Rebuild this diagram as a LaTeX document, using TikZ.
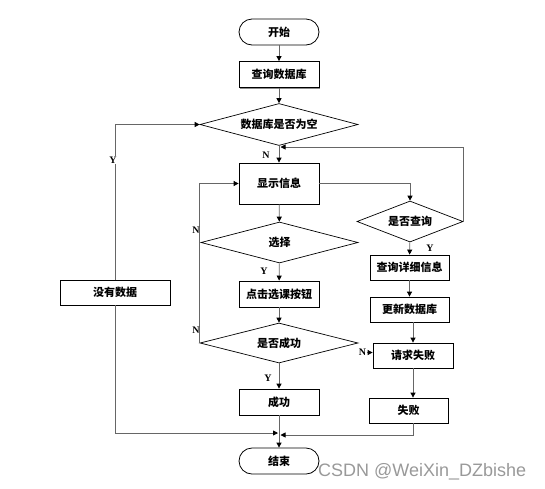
\documentclass[tikz,border=0pt]{standalone}
\usepackage{fontspec}
\setmainfont{Liberation Serif}
\newfontfamily\cjk{Noto Sans CJK SC}
\newfontfamily\wmfont{Liberation Sans}
\usetikzlibrary{shapes.geometric,arrows.meta,shadows}
\begin{document}
\begin{tikzpicture}[x=1pt,y=-1pt,
  box/.style={draw=black,line width=0.8pt,fill=white,rectangle,inner sep=2pt,
    minimum width=80pt,minimum height=26pt,font=\cjk\bfseries\fontsize{11}{12}\selectfont,
    drop shadow={shadow xshift=1.2pt,shadow yshift=-1.2pt,opacity=1,fill=black!45}},
  term/.style={draw=black,line width=0.8pt,fill=white,rectangle,rounded corners=13pt,
    minimum width=80pt,minimum height=26pt,font=\cjk\bfseries\fontsize{11}{12}\selectfont},
  dec/.style={draw=black,line width=0.7pt,fill=white,diamond,aspect=3.6,inner sep=0pt,
    font=\cjk\bfseries\fontsize{11}{12}\selectfont},
  lbl/.style={font=\bfseries\fontsize{10}{11}\selectfont,inner sep=1pt},
  conn/.style={draw=black!60,line width=0.8pt},
  arr/.style={conn,-{Triangle[length=5pt,width=5pt,color=black]}}
]
\useasboundingbox (0,0) rectangle (545,488);

\node[term] (start) at (279,32) {开始};
\node[box] (q1) at (279,74.5) {查询数据库};
\node[dec,minimum width=158pt,minimum height=42pt] (d1) at (279,124.5) {数据库是否为空};
\node[box,minimum height=41pt] (show) at (279,183.5) {显示信息};
\node[dec,minimum width=106pt,minimum height=41pt] (d2) at (410,221.5) {是否查询};
\node[dec,minimum width=157pt,minimum height=41pt] (d3) at (279.5,242.5) {选择};
\node[box] (click) at (279,294) {点击选课按钮};
\node[dec,minimum width=158pt,minimum height=40pt] (d4) at (279,343) {是否成功};
\node[box,minimum width=79pt,minimum height=25pt] (detail) at (409.5,267.5) {查询详细信息};
\node[box,minimum width=79pt,minimum height=25pt] (update) at (409.5,309.5) {更新数据库};
\node[box,minimum height=25pt] (req) at (413,355.5) {请求失败};
\node[box,minimum width=79pt,minimum height=25pt] (fail) at (408.5,410.5) {失败};
\node[box] (ok) at (279,402) {成功};
\node[term] (end) at (279,461) {结束};
\node[box,minimum width=110pt,minimum height=25pt] (nodata) at (115,292.5) {没有数据};

\coordinate (j1) at (280.5,147);
\coordinate (j2) at (278,433);
\coordinate (j3) at (280.5,435);

% main column
\draw[arr] (start) -- (q1);
\draw[arr] (q1) -- (d1);
\draw[arr] (d1) -- (show);
\node[lbl] (n1) at (266,155) {N};
\draw[arr] (show) -- (d3);
\draw[arr] (d3) -- (click);
\node[lbl] (y2) at (264,271) {Y};
\draw[arr] (click) -- (d4);
\draw[arr] (d4) -- (ok);
\node[lbl] (y3) at (268,378) {Y};
\draw[arr] (ok) -- (end);

% right branch
\draw[arr] (show.east) -| (d2.north);
\draw[arr] (d2.east) -- (d2.east |- j1) -- (j1);
\draw[arr] (d2) -- (detail);
\node[lbl] (y1) at (430,248) {Y};
\draw[arr] (detail) -- (update);
\draw[arr] (req.north |- update.south) -- (req.north);
\draw[arr] (req.south) -- (req.south |- fail.north);
\node[lbl] (n4) at (362.5,352.5) {N};
\draw[arr] (n4.east) -- (req.west |- n4.east);
\draw[arr] (fail.south -| 413.5,0) -- (413.5,435) -- (j3);

% left loop
\draw[arr] (d4.west) -- (d4.west |- show.west) -- (show.west);
\node[lbl] (n2) at (196,230) {N};
\node[lbl] (n3) at (196,330) {N};

% leftmost
\draw[arr] (nodata.north) |- (d1.west);
\node[lbl,fill=white] (y0) at (113,160) {Y};
\draw[arr] (nodata.south) |- (j2);

\node[text=black!40,font=\wmfont\fontsize{18}{20}\selectfont,anchor=base west,inner sep=0pt] (wm) at (318,476) {CSDN @WeiXin\_DZbishe};
\end{tikzpicture}
\end{document}
